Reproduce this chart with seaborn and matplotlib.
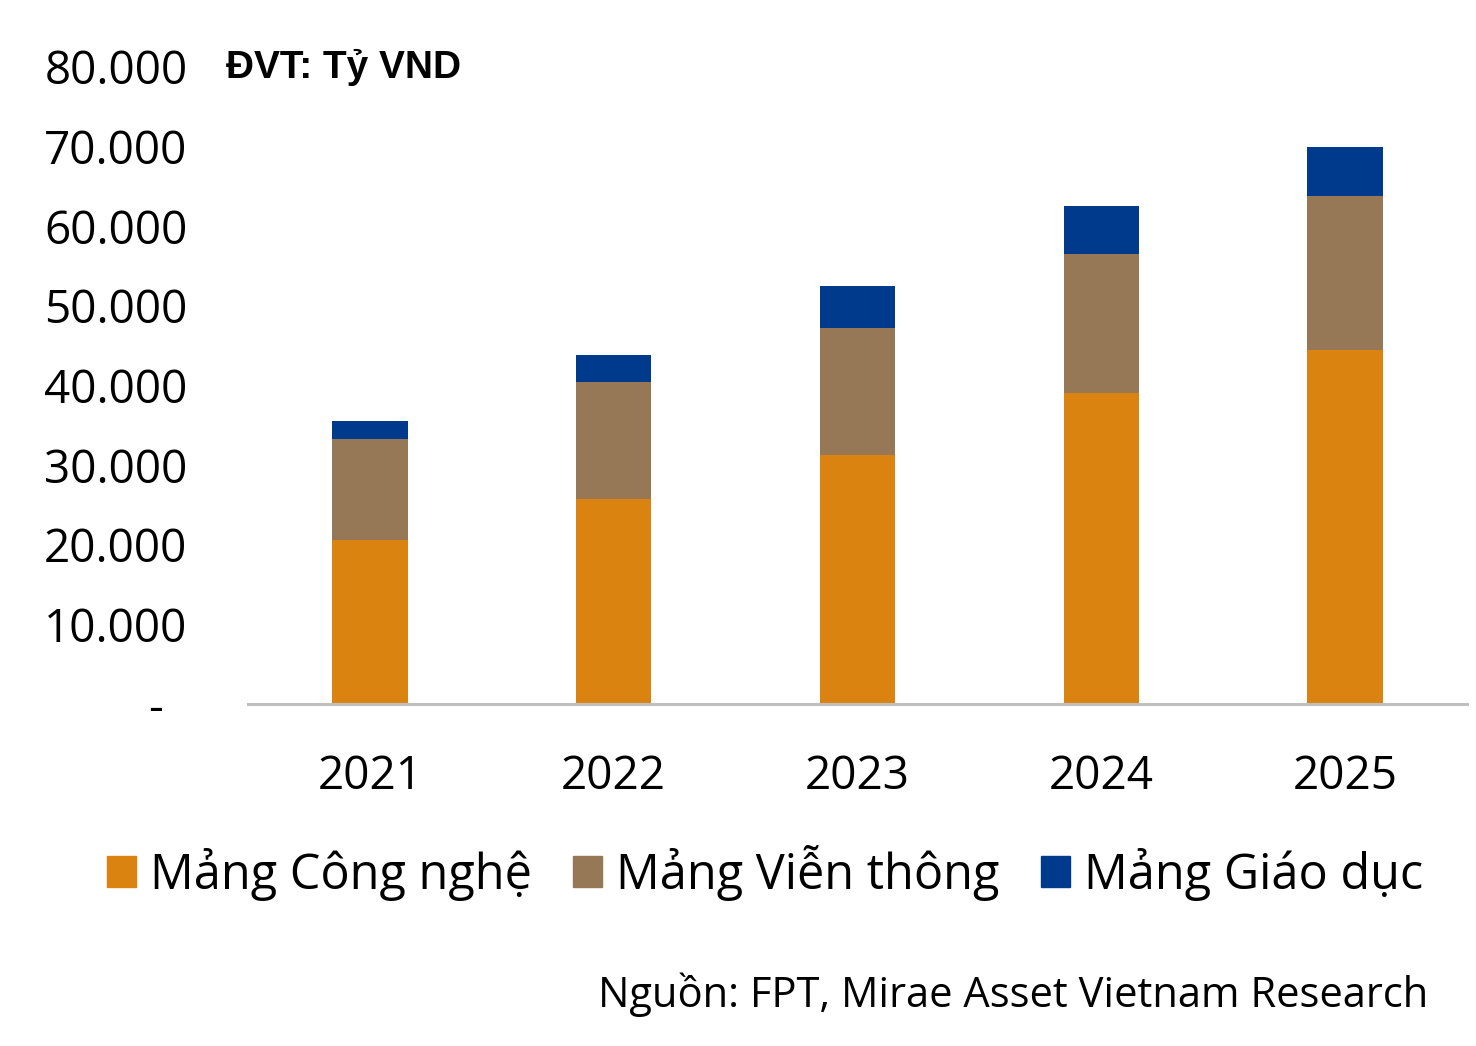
import matplotlib
matplotlib.use('Agg')
import matplotlib.pyplot as plt
import matplotlib.patches as mpatches
from matplotlib.ticker import FuncFormatter, MultipleLocator
import numpy as np
import seaborn as sns

# Doanh thu FPT theo mảng (tỷ VND)
years = ['2021', '2022', '2023', '2024', '2025']
cong_nghe = [20600, 25700, 31300, 39100, 44400]
vien_thong = [12700, 14700, 15900, 17400, 19400]
giao_duc = [2300, 3400, 5300, 6100, 6200]

labels = ['Mảng Công nghệ', 'Mảng Viễn thông', 'Mảng Giáo dục']
colors = ['#DA8311', '#977856', '#003A8C']

sns.set_theme(style='white')
plt.rcParams['font.family'] = ['Open Sans', 'DejaVu Sans']

fig = plt.figure(figsize=(14.76, 10.46), dpi=100)
ax = fig.add_axes([248 / 1476, 1 - 704 / 1046, 1219 / 1476, 637 / 1046])

# stacked bars: draw cumulative totals from the top segment down
top = np.array(cong_nghe) + np.array(vien_thong) + np.array(giao_duc)
mid = np.array(cong_nghe) + np.array(vien_thong)
bot = np.array(cong_nghe)
for vals, c in zip([top, mid, bot], colors[::-1]):
    sns.barplot(x=years, y=vals, color=c, saturation=1, width=0.31,
                linewidth=0, ax=ax)

ax.set_ylim(0, 80000)
ax.set_xlim(-0.5, 4.5)
ax.yaxis.set_major_locator(MultipleLocator(10000))
ax.yaxis.set_major_formatter(FuncFormatter(
    lambda v, p: '-  ' if v == 0 else f'{int(v):,}'.replace(',', '.')))
ax.set_xlabel('')
ax.set_ylabel('')

for s in ['top', 'right', 'left']:
    ax.spines[s].set_visible(False)
ax.spines['bottom'].set_color('#BFBFBF')
ax.spines['bottom'].set_linewidth(2.2)

ax.tick_params(axis='y', length=0, pad=43.5, labelsize=33, labelcolor='black')
ax.tick_params(axis='x', length=0, pad=36, labelsize=33, labelcolor='black')

fig.text(226 / 1476, 1 - 67 / 1046, 'ĐVT: Tỷ VND', fontsize=28, fontweight='bold',
         family=['Liberation Sans', 'DejaVu Sans'], color='black',
         va='center', ha='left')

handles = [mpatches.Patch(color=c, label=l) for c, l in zip(colors, labels)]
fig.legend(handles=handles, loc='center', bbox_to_anchor=(765 / 1476, 1 - 873 / 1046),
           ncol=3, frameon=False, fontsize=35, handlelength=0.6, handleheight=0.6,
           handletextpad=0.28, columnspacing=0.85, labelcolor='black')

fig.text(1428 / 1476, 1 - 995 / 1046, 'Nguồn: FPT, Mirae Asset Vietnam Research',
         fontsize=30, ha='right', va='center', color='black')

fig.savefig('out.png', dpi=100)
